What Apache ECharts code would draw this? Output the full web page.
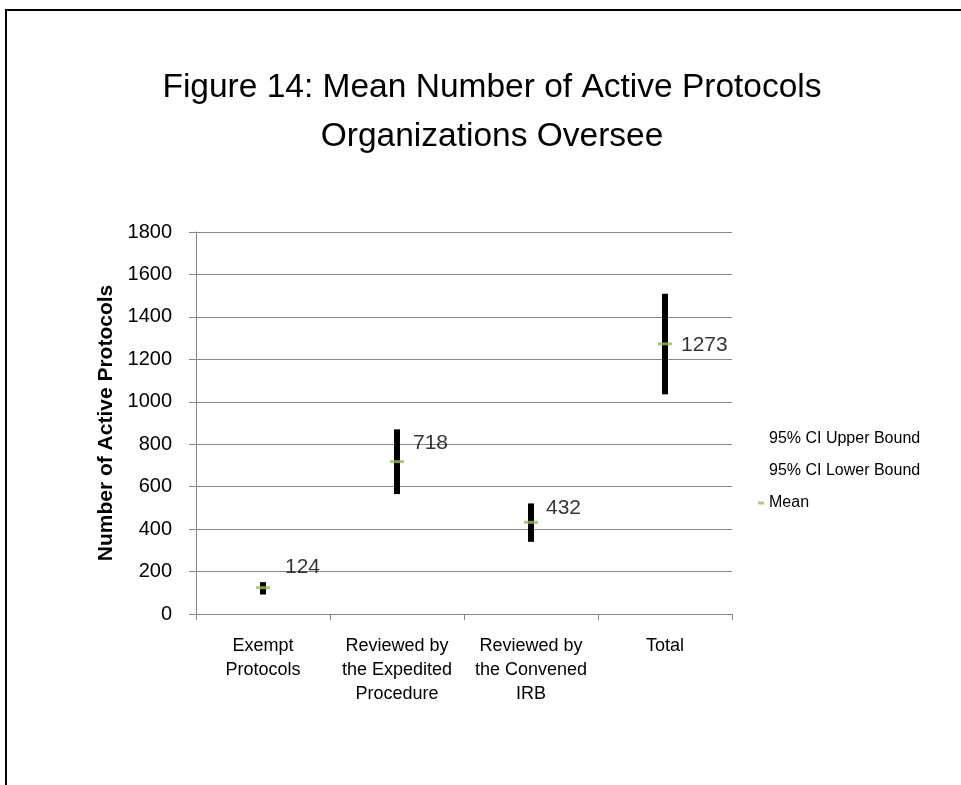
<!DOCTYPE html>
<html>
<head>
<meta charset="utf-8">
<script src="https://cdn.jsdelivr.net/npm/echarts@6/dist/echarts.min.js"></script>
<style>
  html, body { margin: 0; padding: 0; background: #fff; }
  #chart { width: 961px; height: 785px; }
</style>
</head>
<body>
<div id="chart"></div>
<script>
// categories and values
var categories = [
  "Exempt\nProtocols",
  "Reviewed by\nthe Expedited\nProcedure",
  "Reviewed by\nthe Convened\nIRB",
  "Total"
];
var upperBound = [150, 870, 521, 1509];
var lowerBound = [92, 565, 340, 1035];
var meanValues = [124, 718, 432, 1273];
var yTicks = { min: 0, max: 1800, interval: 200 };

// nudges for the value labels (they sit a bit off the mean in the original)
var labelOffsets = [[10, -20], [4, -18], [3, -14], [4, 1]];

var font = "Liberation Sans";
var chart = echarts.init(document.getElementById("chart"));

var rangeData = categories.map(function (c, i) {
  return [i, lowerBound[i], upperBound[i]];
});
var meanData = meanValues.map(function (v, i) {
  return { value: v, label: { offset: labelOffsets[i] } };
});

var option = {
  backgroundColor: "#fff",
  animation: false,
  textStyle: { fontFamily: font },
  title: {
    text: "Figure 14: Mean Number of Active Protocols\nOrganizations Oversee",
    left: 487,
    top: 58,
    textAlign: "center",
    textStyle: {
      fontFamily: font,
      fontSize: 33.5,
      fontWeight: "normal",
      color: "#000",
      lineHeight: 49
    }
  },
  graphic: [
    {
      type: "rect",
      shape: { x: 6, y: 10, width: 1200, height: 1000 },
      style: { fill: null, stroke: "#000", lineWidth: 2 },
      silent: true
    }
  ],
  legend: {
    orient: "vertical",
    left: 753,
    top: 425,
    itemWidth: 6,
    itemHeight: 3,
    itemGap: 14,
    icon: "rect",
    textStyle: { fontFamily: font, fontSize: 16, color: "#000", lineHeight: 18 },
    data: [
      { name: "95% CI Upper Bound", itemStyle: { opacity: 0 } },
      { name: "95% CI Lower Bound", itemStyle: { opacity: 0 } },
      { name: "Mean" }
    ]
  },
  grid: { left: 196, right: 229, top: 232, bottom: 171 },
  xAxis: {
    type: "category",
    data: categories,
    boundaryGap: true,
    axisLine: { lineStyle: { color: "#868686", width: 1 } },
    axisTick: { show: true, length: 6, lineStyle: { color: "#868686" } },
    axisLabel: {
      fontFamily: font,
      fontSize: 18,
      color: "#000",
      lineHeight: 24,
      margin: 20,
      interval: 0
    }
  },
  yAxis: {
    type: "value",
    min: yTicks.min,
    max: yTicks.max,
    interval: yTicks.interval,
    name: "Number of Active Protocols",
    nameLocation: "middle",
    nameGap: 73,
    nameTextStyle: { fontFamily: font, fontSize: 21, fontWeight: "bold", color: "#000" },
    axisLine: { show: true, lineStyle: { color: "#868686" } },
    axisTick: { show: true, length: 7, lineStyle: { color: "#868686" } },
    axisLabel: {
      fontFamily: font,
      fontSize: 20,
      color: "#000",
      margin: 24,
      formatter: function (v) { return String(v); }
    },
    splitLine: { lineStyle: { color: "#868686", width: 1 } }
  },
  series: [
    {
      name: "95% CI Upper Bound",
      type: "line",
      data: upperBound,
      symbol: "none",
      lineStyle: { opacity: 0 },
      itemStyle: { color: "#000" },
      silent: true
    },
    {
      name: "95% CI Lower Bound",
      type: "line",
      data: lowerBound,
      symbol: "none",
      lineStyle: { opacity: 0 },
      itemStyle: { color: "#000" },
      silent: true
    },
    {
      name: "range",
      type: "custom",
      data: rangeData,
      encode: { x: 0, y: [1, 2] },
      renderItem: function (params, api) {
        var top = api.coord([api.value(0), api.value(2)]);
        var bottom = api.coord([api.value(0), api.value(1)]);
        var w = 6;
        return {
          type: "rect",
          shape: { x: top[0] - w / 2, y: top[1], width: w, height: bottom[1] - top[1] },
          style: { fill: "#000" }
        };
      },
      z: 3
    },
    {
      name: "Mean",
      type: "scatter",
      data: meanData,
      symbol: "rect",
      symbolSize: [14, 3],
      itemStyle: { color: "#9bbb59" },
      label: {
        show: true,
        position: "right",
        distance: 5,
        fontFamily: font,
        fontSize: 21,
        color: "#000"
      },
      z: 4
    }
  ]
};

chart.setOption(option);
</script>
</body>
</html>
